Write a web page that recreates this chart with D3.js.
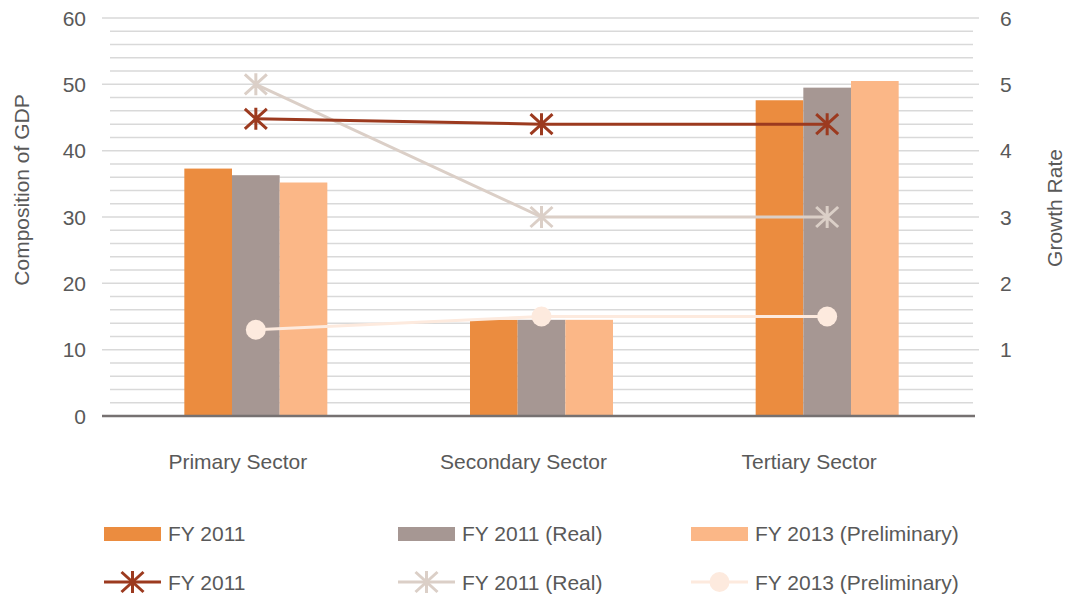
<!DOCTYPE html>
<html>
<head>
<meta charset="utf-8">
<script src="https://cdn.jsdelivr.net/npm/d3@7"></script>
<style>
  body { margin: 0; background: #fff; }
  text { font-family: "Liberation Sans", Arial, sans-serif; fill: #595959; }
</style>
</head>
<body>
<div id="chart"></div>
<script>
// categories and series
const sectors = ["Primary Sector", "Secondary Sector", "Tertiary Sector"];
const barSeries = ["FY 2011", "FY 2011 (Real)", "FY 2013 (Preliminary)"];
const barColors = ["#eb8c3f", "#a69793", "#fbb787"];
const barFy2011 = [37.3, 14.5, 47.6];
const barFy2011Real = [36.3, 14.5, 49.5];
const barFy2013 = [35.2, 14.5, 50.5];

const lineSeries = ["FY 2011", "FY 2011 (Real)", "FY 2013 (Preliminary)"];
const lineColors = ["#9c3a1f", "#dbcfc7", "#fdeade"];
const rateFy2011 = [4.48, 4.4, 4.4];
const rateFy2011Real = [5.0, 3.0, 3.0];
const rateFy2013 = [1.3, 1.5, 1.5];

const leftTicks = [0, 10, 20, 30, 40, 50, 60];
const rightTicks = [1, 2, 3, 4, 5, 6];

const w = 1068, h = 597;
const plotTop = 18, plotBottom = 416;
const fs = "21px";

const svg = d3.select("#chart").append("svg")
  .attr("width", w).attr("height", h);

const xScale = d3.scaleBand().domain(sectors).range([113, 970]);
const inner = d3.scaleBand().domain(barSeries).range([-71.5, 71.5]);
const yLeft = d3.scaleLinear().domain([0, 60]).range([plotBottom, plotTop]);
const yRight = d3.scaleLinear().domain([0, 6]).range([plotBottom, plotTop]);

// gridlines: minor every 2, major every 10
const grid = svg.append("g");
grid.selectAll("line.minor")
  .data(d3.range(2, 60, 2).filter(v => v % 10 !== 0))
  .enter().append("line")
  .attr("x1", 110).attr("x2", 973)
  .attr("y1", d => yLeft(d)).attr("y2", d => yLeft(d))
  .attr("stroke", "#d9d9d9").attr("stroke-width", 1.5);
grid.selectAll("line.major")
  .data(leftTicks.slice(1))
  .enter().append("line")
  .attr("x1", 102).attr("x2", 979)
  .attr("y1", d => yLeft(d)).attr("y2", d => yLeft(d))
  .attr("stroke", "#d9d9d9").attr("stroke-width", 1.5);

// bars
const barData = [barFy2011, barFy2011Real, barFy2013];
barSeries.forEach((s, si) => {
  svg.append("g").selectAll("rect")
    .data(barData[si])
    .enter().append("rect")
    .attr("x", (d, i) => xScale(sectors[i]) + xScale.bandwidth() / 2 + inner(s))
    .attr("y", d => yLeft(d))
    .attr("width", inner.bandwidth())
    .attr("height", d => plotBottom - yLeft(d))
    .attr("fill", barColors[si]);
});

// baseline
svg.append("line")
  .attr("x1", 102).attr("x2", 975)
  .attr("y1", plotBottom).attr("y2", plotBottom)
  .attr("stroke", "#767171").attr("stroke-width", 2.5);

// left axis labels
svg.append("g").selectAll("text")
  .data(leftTicks).enter().append("text")
  .attr("x", 86).attr("y", d => yLeft(d) + 7.5)
  .attr("text-anchor", "end")
  .style("font-size", fs)
  .text(d => d);

// right axis labels
svg.append("g").selectAll("text")
  .data(rightTicks).enter().append("text")
  .attr("x", 1000).attr("y", d => yRight(d) + 7.5)
  .style("font-size", fs)
  .text(d => d);

// axis titles
svg.append("text")
  .attr("transform", "translate(29,190) rotate(-90)")
  .attr("text-anchor", "middle")
  .style("font-size", fs)
  .text("Composition of GDP");
svg.append("text")
  .attr("transform", "translate(1062,208) rotate(-90)")
  .attr("text-anchor", "middle")
  .style("font-size", fs)
  .text("Growth Rate");

// category labels
svg.append("g").selectAll("text")
  .data(sectors).enter().append("text")
  .attr("x", d => xScale(d) + xScale.bandwidth() / 2 - 18)
  .attr("y", 469)
  .attr("text-anchor", "middle")
  .style("font-size", fs)
  .text(d => d);

// markers
function asterisk(g, color) {
  g.append("path")
    .attr("d", "M0,-11V11M-11,-10L11,10M-11,10L11,-10")
    .attr("stroke", color).attr("stroke-width", 3).attr("fill", "none");
}
function dot(g, color) {
  g.append("circle").attr("r", 10).attr("fill", color);
}
const markers = [asterisk, asterisk, dot];

// lines
const lineData = [rateFy2011, rateFy2011Real, rateFy2013];
const cx = s => xScale(s) + xScale.bandwidth() / 2;
const line = d3.line().x((d, i) => cx(sectors[i])).y(d => yRight(d));
[2, 1, 0].forEach(si => {
  svg.append("path")
    .attr("d", line(lineData[si]))
    .attr("fill", "none")
    .attr("stroke", lineColors[si])
    .attr("stroke-width", 3);
  lineData[si].forEach((v, i) => {
    const g = svg.append("g")
      .attr("transform", `translate(${cx(sectors[i])},${yRight(v)})`);
    markers[si](g, lineColors[si]);
  });
});

// legend
const legendX = [104, 398, 691];
const legend = svg.append("g");
barSeries.forEach((s, i) => {
  legend.append("rect")
    .attr("x", legendX[i]).attr("y", 527)
    .attr("width", 57).attr("height", 14)
    .attr("fill", barColors[i]);
  legend.append("text")
    .attr("x", legendX[i] + 64).attr("y", 541)
    .style("font-size", fs)
    .text(s);
});
lineSeries.forEach((s, i) => {
  legend.append("line")
    .attr("x1", legendX[i]).attr("x2", legendX[i] + 57)
    .attr("y1", 582).attr("y2", 582)
    .attr("stroke", lineColors[i]).attr("stroke-width", 3);
  const g = legend.append("g")
    .attr("transform", `translate(${legendX[i] + 28.5},582)`);
  markers[i](g, lineColors[i]);
  legend.append("text")
    .attr("x", legendX[i] + 64).attr("y", 590)
    .style("font-size", fs)
    .text(s);
});
</script>
</body>
</html>
